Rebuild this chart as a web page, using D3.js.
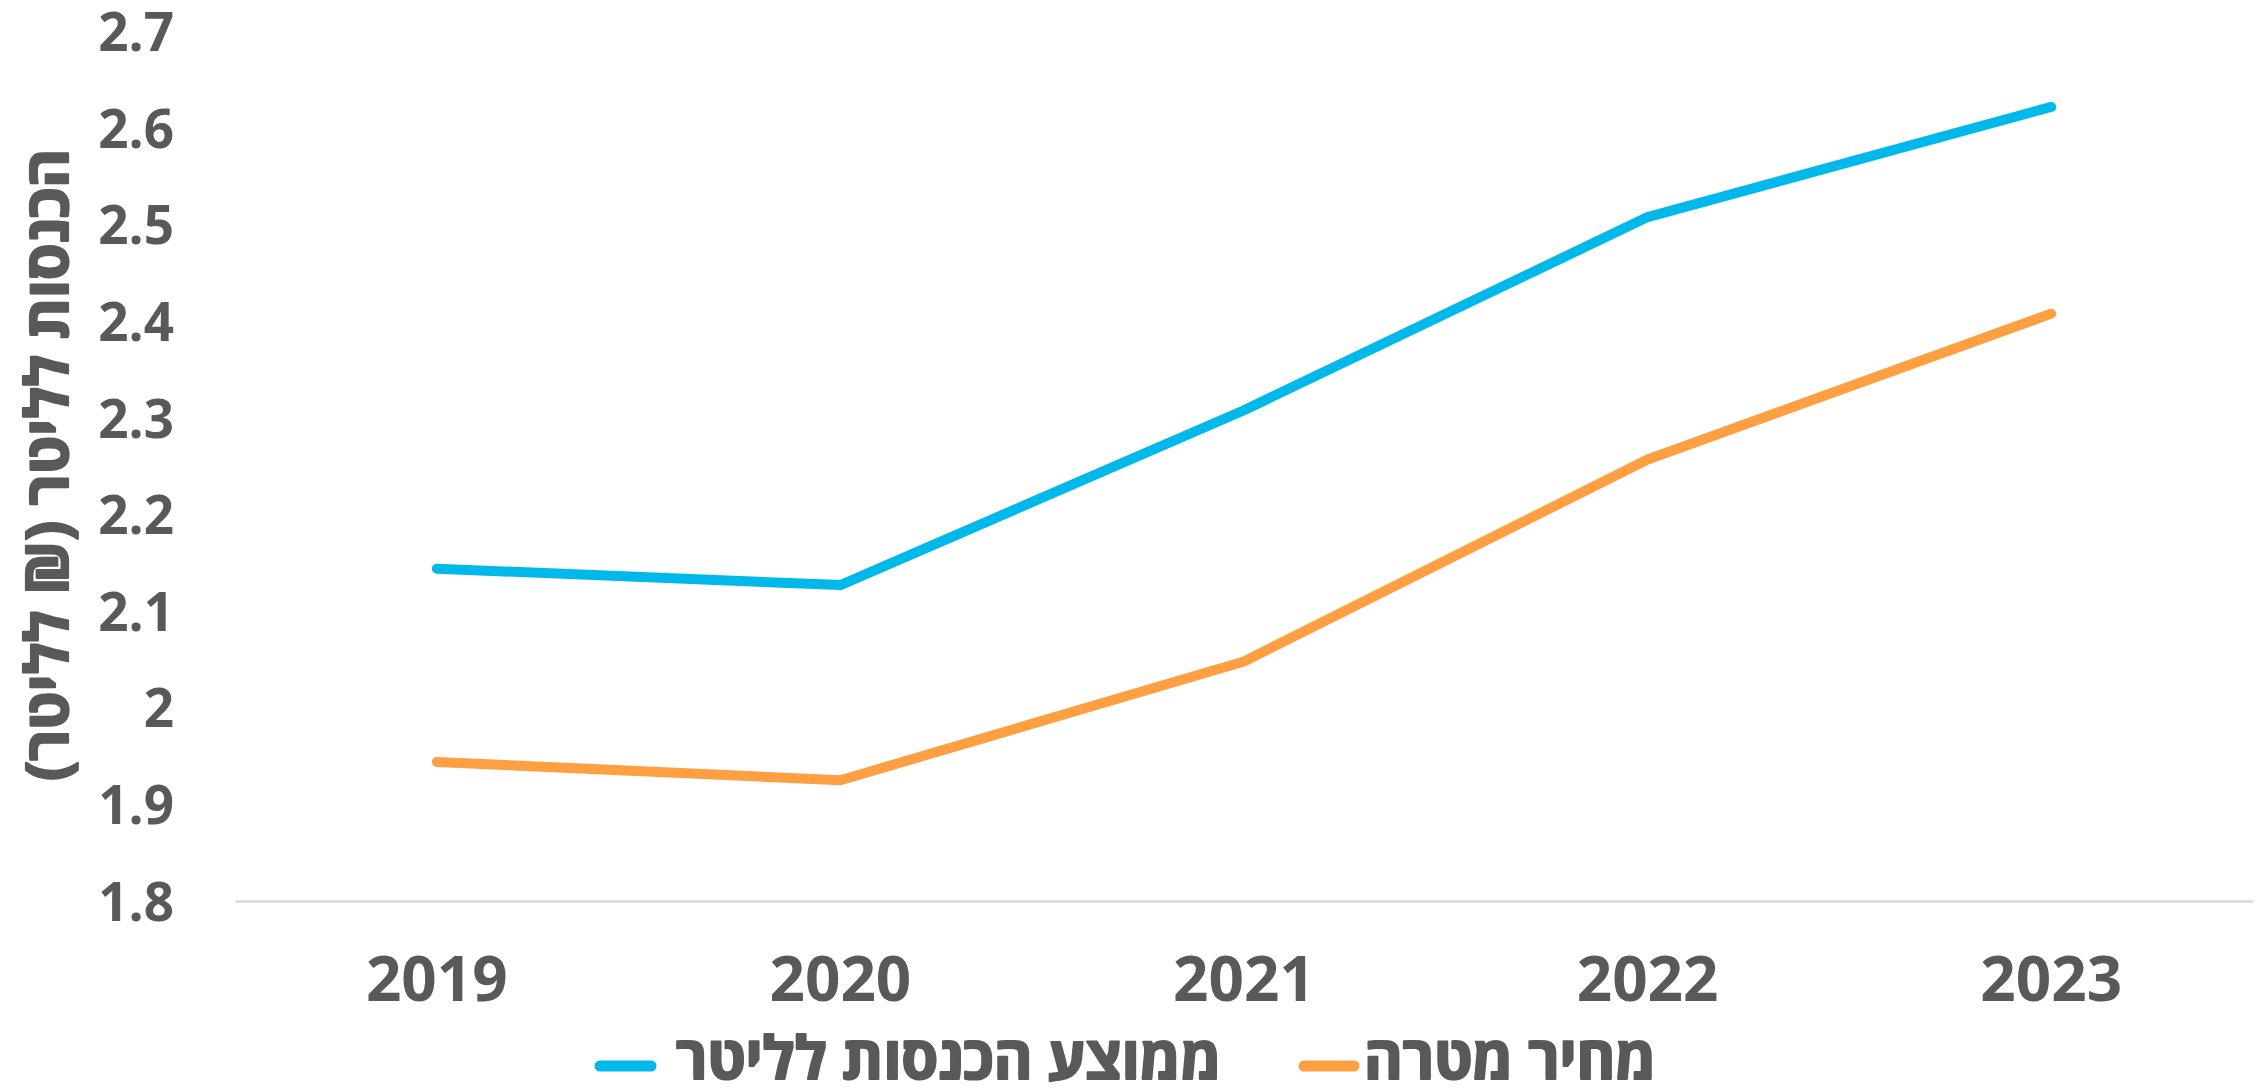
<!DOCTYPE html>
<html lang="he">
<head>
<meta charset="utf-8">
<script src="https://cdn.jsdelivr.net/npm/d3@7"></script>
<style>
  html, body { margin: 0; padding: 0; background: #fff; }
  svg { display: block; }
  text { font-family: "Open Sans", "Liberation Sans", Arial, sans-serif; font-weight: bold; fill: #595959; }
  .heb { stroke: #595959; stroke-width: 2.2px; stroke-linejoin: round; paint-order: stroke fill; }
</style>
</head>
<body>
<svg id="chart" width="2262" height="1088"></svg>
<script>
// ---- data ----
const categories = ["2019", "2020", "2021", "2022", "2023"];
const incomeValues = [2.144, 2.127, 2.308, 2.508, 2.622];   // ממוצע הכנסות לליטר
const targetValues = [1.944, 1.925, 2.048, 2.257, 2.408];   // מחיר מטרה
const tickValues = [1.8, 1.9, 2.0, 2.1, 2.2, 2.3, 2.4, 2.5, 2.6, 2.7];
const tickLabels = ["1.8", "1.9", "2", "2.1", "2.2", "2.3", "2.4", "2.5", "2.6", "2.7"];
const seriesNames = ["ממוצע הכנסות לליטר", "מחיר מטרה"];
const yTitle = "הכנסות לליטר (₪ לליטר)";

const colors = ["#00B9EA", "#FE9F42"];
const series = [
  { name: seriesNames[0], values: incomeValues, color: colors[0] },
  { name: seriesNames[1], values: targetValues, color: colors[1] }
];

const svg = d3.select("#chart");

const x = d3.scaleBand().domain(categories).range([235, 2253]).padding(0);
const y = d3.scaleLinear().domain([1.8, 2.7]).range([901, 31.6]);

// y axis tick labels
const yAxis = d3.axisLeft(y).tickValues(tickValues)
  .tickFormat((d, i) => tickLabels[i]).tickSize(0).tickPadding(0);
const gy = svg.append("g").attr("transform", "translate(174,0)").call(yAxis);
gy.select(".domain").remove();
gy.selectAll("text")
  .attr("font-size", 53)
  .attr("font-family", "\"Open Sans\", \"Liberation Sans\", Arial, sans-serif")
  .attr("font-weight", "bold")
  .attr("fill", "#595959")
  .attr("dy", "0.36em");

// x axis
const xAxis = d3.axisBottom(x).tickSize(0).tickPadding(0);
const gx = svg.append("g").attr("transform", "translate(0,901)").call(xAxis);
gx.select(".domain").attr("stroke", "#D9D9D9").attr("stroke-width", 2.5);
gx.selectAll("text")
  .attr("font-size", 62)
  .attr("font-family", "\"Liberation Sans\", Arial, sans-serif")
  .attr("font-weight", "bold")
  .attr("fill", "#595959")
  .attr("y", 100)
  .attr("dy", 0);

// lines
const line = d3.line()
  .x((d, i) => x(categories[i]) + x.bandwidth() / 2)
  .y(d => y(d));

svg.append("g").selectAll("path.series")
  .data(series)
  .join("path")
  .attr("class", "series")
  .attr("d", d => line(d.values))
  .attr("fill", "none")
  .attr("stroke", d => d.color)
  .attr("stroke-width", 10)
  .attr("stroke-linecap", "round")
  .attr("stroke-linejoin", "round");

// y axis title
svg.append("text")
  .attr("class", "heb")
  .attr("transform", "translate(68,465) rotate(-90)")
  .attr("text-anchor", "middle")
  .attr("direction", "rtl")
  .attr("font-size", 59)
  .text(yTitle);

// legend
const legendItems = [
  { name: seriesNames[0], color: colors[0], x0: 600, x1: 651, tx: 676 },
  { name: seriesNames[1], color: colors[1], x0: 1304, x1: 1354, tx: 1364 }
];
const lg = svg.append("g").selectAll("g").data(legendItems).join("g");
lg.append("line")
  .attr("x1", d => d.x0).attr("x2", d => d.x1)
  .attr("y1", 1066).attr("y2", 1066)
  .attr("stroke", d => d.color).attr("stroke-width", 11).attr("stroke-linecap", "round");
lg.append("text")
  .attr("class", "heb")
  .attr("x", d => d.tx).attr("y", 1079)
  .attr("font-size", 59)
  .text(d => d.name);
</script>
</body>
</html>
